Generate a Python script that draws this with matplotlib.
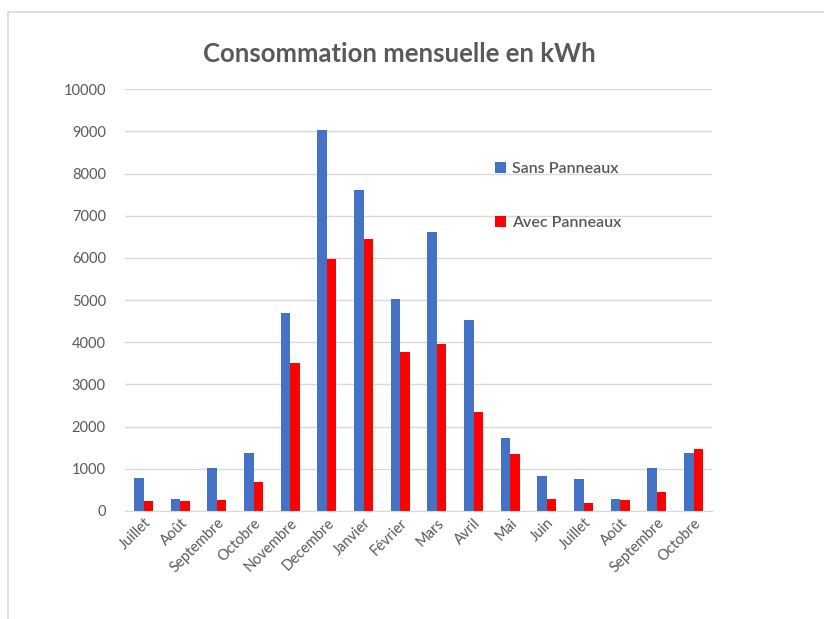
import matplotlib.pyplot as plt
import numpy as np
from matplotlib.patches import Rectangle

mois = ["Juillet", "Août", "Septembre", "Octobre", "Novembre", "Decembre",
        "Janvier", "Février", "Mars", "Avril", "Mai", "Juin",
        "Juillet", "Août", "Septembre", "Octobre"]
sans_panneaux = [780, 280, 1020, 1380, 4700, 9020, 7620, 5020,
                 6620, 4520, 1720, 820, 760, 280, 1020, 1380]
avec_panneaux = [230, 230, 260, 680, 3500, 5980, 6440, 3780,
                 3960, 2340, 1340, 280, 200, 270, 460, 1460]

plt.rcParams['font.family'] = ['Lato', 'DejaVu Sans']

fig = plt.figure(figsize=(8.24, 6.19), dpi=100)
# cadre gris de la capture
fig.patches.append(Rectangle((8 / 824, -0.1), 1.2, 1 - 12 / 619 + 0.1,
                             transform=fig.transFigure, fill=False,
                             edgecolor="#d9d9d9", linewidth=1.2))

ax = fig.add_axes([0.152, 0.1745, 0.712, 0.6815])
x = np.arange(len(mois))
width = 0.26
ax.bar(x - width / 2, sans_panneaux, width, color="#4472C4", label="Sans Panneaux")
ax.bar(x + width / 2, avec_panneaux, width, color="#FF0000", label="Avec Panneaux")

ax.set_xlim(-0.5, len(mois) - 0.5)
ax.set_ylim(0, 10000)
ax.set_yticks(np.arange(0, 10001, 1000))
ax.yaxis.grid(True, color="#d9d9d9", linewidth=1)
ax.set_axisbelow(True)
for side in ["top", "right", "left"]:
    ax.spines[side].set_visible(False)
ax.spines["bottom"].set_color("#d9d9d9")
ax.tick_params(axis="both", length=0, colors="#595959", labelsize=10.5)
ax.tick_params(axis="y", pad=14)
ax.set_xticks(x)
ax.set_xticklabels(mois, rotation=45, ha="right", rotation_mode="anchor")

fig.text(0.485, 0.912, "Consommation mensuelle en kWh", ha="center", va="center",
         fontsize=18.5, fontweight="bold", color="#595959")

leg = ax.legend(loc="upper left", bbox_to_anchor=(0.605, 0.862), frameon=False,
                handlelength=0.7, handleheight=0.7, handletextpad=0.4,
                labelspacing=2.5, prop={"size": 11.5, "weight": "semibold"})
for t in leg.get_texts():
    t.set_color("#595959")

fig.savefig("out.png", dpi=100, facecolor="white")
